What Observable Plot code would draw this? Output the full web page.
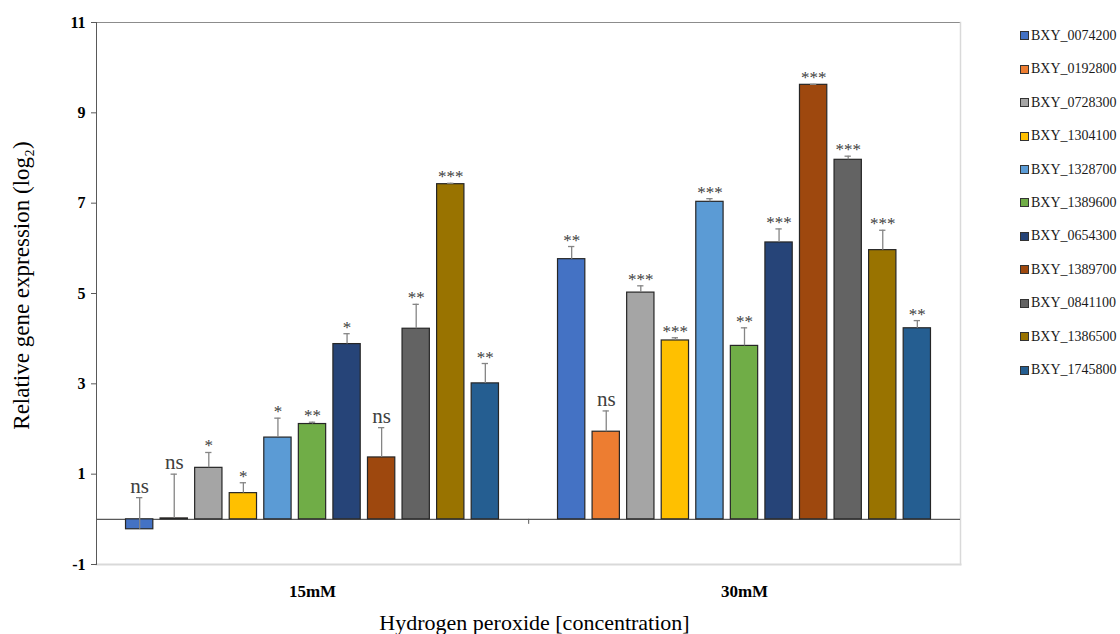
<!DOCTYPE html>
<html><head><meta charset="utf-8">
<script src="https://cdn.jsdelivr.net/npm/d3@7"></script>
<script src="https://cdn.jsdelivr.net/npm/@observablehq/plot@0.6"></script>
<style>
body{margin:0;background:#fff;}
#wrap{position:relative;width:1120px;height:634px;font-family:"Liberation Serif",serif;}
#legend{position:absolute;left:1020px;top:0;}
.row{position:absolute;left:0;height:16px;display:flex;align-items:center;white-space:nowrap;font-size:14px;color:#1a1a1a;}
.sw{width:7px;height:7px;border:1px solid #333;margin-right:2px;}
</style></head><body><div id="wrap"><div id="chart"></div><div id="legend"></div></div>
<script>
const genes = ["BXY_0074200","BXY_0192800","BXY_0728300","BXY_1304100","BXY_1328700","BXY_1389600","BXY_0654300","BXY_1389700","BXY_0841100","BXY_1386500","BXY_1745800"];
const colors = ["#4472C4","#ED7D31","#A5A5A5","#FFC000","#5B9BD5","#70AD47","#264478","#9E480E","#636363","#997300","#255E91"];
const groups = ["15mM","30mM"];
const values15 = [-0.22, 0.02, 1.14, 0.58, 1.81, 2.11, 3.88, 1.37, 4.22, 7.42, 3.01];
const errors15 = [0.70, 0.98, 0.34, 0.23, 0.43, 0.04, 0.23, 0.66, 0.54, 0.02, 0.44];
const sig15 = ["ns","ns","*","*","*","**","*","ns","**","***","**"];
const values30 = [5.76, 1.94, 5.02, 3.96, 7.03, 3.84, 6.13, 9.62, 7.96, 5.96, 4.23];
const errors30 = [0.28, 0.46, 0.15, 0.06, 0.07, 0.40, 0.30, 0.01, 0.08, 0.44, 0.17];
const sig30 = ["**","ns","***","***","***","**","***","***","***","***","**"];
const yTicks = [-1, 1, 3, 5, 7, 9, 11];
const yTitle = "Relative gene expression (log\u2082)";
const xTitle = "Hydrogen peroxide [concentration]";

const vals = [values15, values30], errs = [errors15, errors30], sigs = [sig15, sig30];
const data = groups.flatMap((g, gi) => genes.map((gene, i) => ({
  group: g, gene, value: vals[gi][i], err: errs[gi][i], top: vals[gi][i] + errs[gi][i], sig: sigs[gi][i]
})));

const plot = Plot.plot({
  width: 1120, height: 634,
  marginLeft: 96, marginRight: 160, marginTop: 22, marginBottom: 70,
  style: {fontFamily: "Liberation Serif, serif", background: "#fff", color: "#000"},
  fx: {domain: groups, padding: 0, round: false},
  x: {domain: genes, paddingInner: 0.21, paddingOuter: 0.854, round: false, axis: null},
  y: {domain: [-1, 11]},
  color: {domain: genes, range: colors},
  marks: [
    Plot.frame({facet: "super", anchor: "top", stroke: "#8c8c8c"}),
    Plot.frame({facet: "super", anchor: "right", stroke: "#d9d9d9", strokeWidth: 1.5}),
    Plot.frame({facet: "super", anchor: "bottom", stroke: "#d9d9d9", strokeWidth: 2}),
    Plot.frame({facet: "super", anchor: "left", stroke: "#595959"}),
    Plot.ruleY([0], {stroke: "#595959", strokeWidth: 1.2}),
    Plot.ruleX(data.filter(d => d.group === groups[1] && d.gene === genes[0]),
      {fx: "group", x: "gene", y1: 0, y2: 0, insetBottom: -5, dx: -43, stroke: "#595959"}),
    Plot.barY(data, {fx: "group", x: "gene", y: "value", fill: "gene", stroke: "#262626", strokeWidth: 1.2}),
    Plot.ruleX(data, {fx: "group", x: "gene", y1: "value", y2: "top", stroke: "#858585", strokeWidth: 1.3}),
    Plot.tickY(data, {fx: "group", x: "gene", y: "top", stroke: "#858585", strokeWidth: 1.3, insetLeft: 10.5, insetRight: 10.5}),
    Plot.text(data.filter(d => d.sig === "ns"), {fx: "group", x: "gene", y: "top", text: "sig", lineAnchor: "bottom", dy: -5, fontSize: 21, fill: "#404040"}),
    Plot.text(data.filter(d => d.sig !== "ns"), {fx: "group", x: "gene", y: "top", text: "sig", lineAnchor: "bottom", dy: -1, fontSize: 17, fill: "#404040"}),
    Plot.axisY({ticks: yTicks, tickFormat: d => String(d), tickSize: 5, tickPadding: 6, fontWeight: "bold", fontSize: 16, label: null, stroke: "#595959"}),
    Plot.axisFx({anchor: "bottom", tickSize: 0, tickPadding: 20, fontWeight: "bold", fontSize: 17, label: null}),
    Plot.text([yTitle], {facet: "super", frameAnchor: "left", textAnchor: "middle", lineAnchor: "middle", rotate: -90, dx: -75, dy: -8, fontSize: 23}),
    Plot.text([xTitle], {facet: "super", frameAnchor: "bottom", textAnchor: "middle", lineAnchor: "middle", dy: 58, dx: 6, fontSize: 22})
  ]
});
document.getElementById("chart").appendChild(plot);

const legend = document.getElementById("legend");
genes.forEach((g, i) => {
  const row = document.createElement("div");
  row.className = "row";
  row.style.top = (35.7 + 33.45 * i - 8) + "px";
  const sw = document.createElement("div");
  sw.className = "sw";
  sw.style.background = colors[i];
  const t = document.createElement("span");
  t.textContent = g;
  row.appendChild(sw); row.appendChild(t);
  legend.appendChild(row);
});
</script></body></html>
